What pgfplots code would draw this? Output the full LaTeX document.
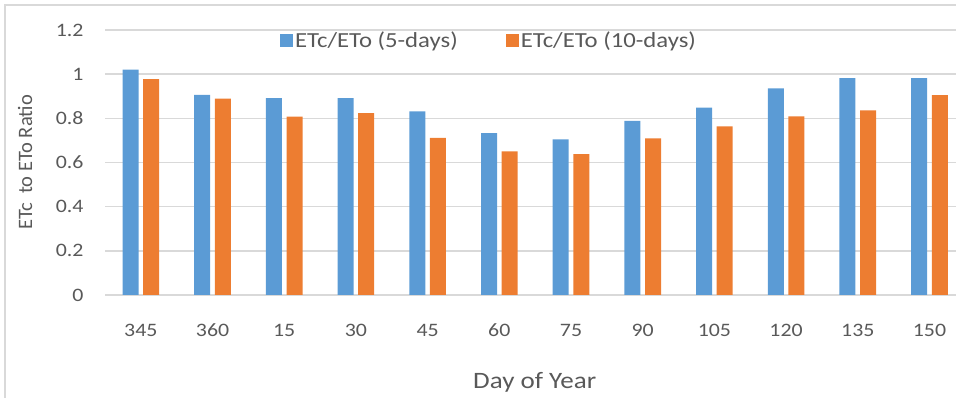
\documentclass[border=0pt]{standalone}
\usepackage{fontspec}
\setmainfont{Carlito}[FakeStretch=1.15]
\newfontfamily\plainfont{Carlito}
\usepackage{pgfplots}
\pgfplotsset{compat=1.18}

\definecolor{serA}{HTML}{5B9BD5}
\definecolor{serB}{HTML}{ED7D31}
\definecolor{txt}{HTML}{595959}
\definecolor{gridc}{HTML}{D9D9D9}

\begin{document}
\begin{tikzpicture}
\begin{axis}[
  at={(105bp,103bp)}, anchor=south west,
  scale only axis,
  width=851bp, height=265bp,
  xmin=-0.5, xmax=11.37,
  ymin=0, ymax=1.2,
  ytick={0,0.2,...,1.2},
  yticklabels={0,0.2,0.4,0.6,0.8,1,1.2},
  xtick={0,...,11},
  xticklabels={345,360,15,30,45,60,75,90,105,120,135,150},
  major tick length=0pt,
  axis line style={draw=none},
  ymajorgrids,
  grid style={gridc, line width=1.4bp},
  /pgf/number format/assume math mode=true,
  tick label style={font=\fontsize{19bp}{23bp}\selectfont, text=txt},
  yticklabel style={anchor=east, xshift=-18bp},
  xticklabel style={anchor=center, yshift=-35bp},
  xlabel={Day of Year},
  ylabel={ETc\ \ to ETo Ratio},
  xlabel style={font=\fontsize{23.5bp}{27bp}\selectfont, text=txt,
    at={(axis description cs:0.505,0)}, anchor=center, yshift=-87bp},
  ylabel style={font=\plainfont\fontsize{20.5bp}{24bp}\selectfont, text=txt,
    at={(axis description cs:0,0.5)}, anchor=center, yshift=80bp},
  ybar,
  bar width=16bp,
  legend columns=2,
  legend style={draw=none, fill=none,
    at={(axis description cs:0.2021,0.962)}, anchor=west,
    font=\fontsize{21.5bp}{25bp}\selectfont, text=txt,
    /tikz/every even column/.append style={column sep=46bp}},
  legend image code/.code={\fill[#1] (0bp,-6.5bp) rectangle (13bp,6.5bp);},
]
\draw[gridc, line width=2bp] (axis cs:-0.5,0) -- (axis cs:11.37,0);
\addplot[fill=serA, draw=none, bar shift=-10.3bp] coordinates {
  (0,1.021) (1,0.906) (2,0.891) (3,0.891) (4,0.832) (5,0.733)
  (6,0.705) (7,0.788) (8,0.848) (9,0.936) (10,0.982) (11,0.982)};
\addplot[fill=serB, draw=none, bar shift=10.3bp] coordinates {
  (0,0.977) (1,0.889) (2,0.808) (3,0.824) (4,0.712) (5,0.650)
  (6,0.638) (7,0.709) (8,0.764) (9,0.809) (10,0.836) (11,0.905)};
\legend{ETc/ETo (5-days), ETc/ETo (10-days)}
\end{axis}
% chart frame
\draw[gridc, line width=1.5bp] (5bp,-10bp) -- (5bp,393bp) -- (970bp,393bp);
\pgfresetboundingbox
\path[use as bounding box] (0,0) rectangle (956bp,398bp);
\end{tikzpicture}
\end{document}
